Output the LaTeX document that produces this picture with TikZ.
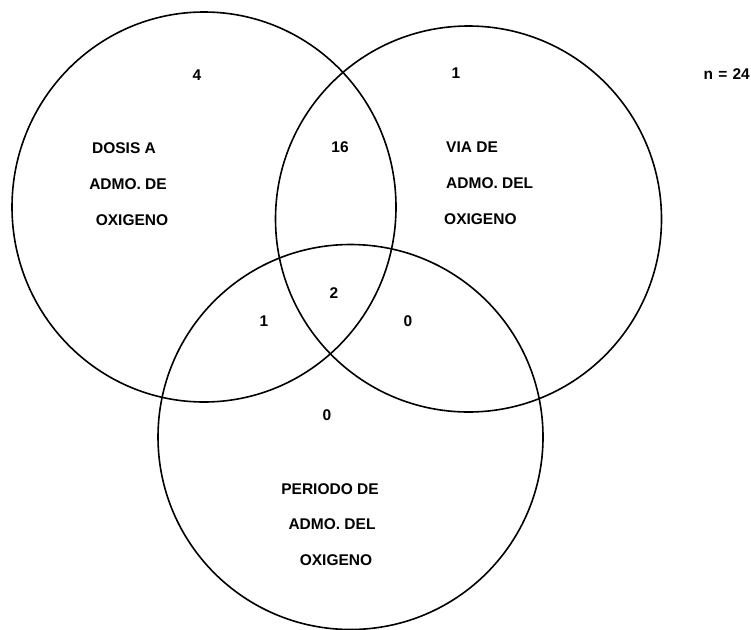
\documentclass[tikz,border=0pt]{standalone}
\usepackage{fontspec}
\setmainfont{Liberation Sans}
\begin{document}
\begin{tikzpicture}[x=1pt,y=-1pt,
  ring/.style={line width=1.6pt},
  lbl/.style={inner sep=0pt,font=\fontsize{15.5}{19}\selectfont\bfseries}]
\useasboundingbox (0,0) rectangle (751,629);
% circles
\draw[ring] (204,207) ellipse [x radius=192, y radius=195];
\draw[ring] (468.5,219) circle [radius=193];
\draw[ring] (350.5,437) circle [radius=192.5];
% counts
\node[lbl] (n4) at (197,75) {4};
\node[lbl] (n1a) at (456,73) {1};
\node[lbl,anchor=east] (ntot) at (750,74) {n\,\,=\,\,24};
\node[lbl] (n16) at (340,147) {16};
\node[lbl] (n2) at (334,293) {2};
\node[lbl] (n1b) at (264,321) {1};
\node[lbl] (n0a) at (408,321) {0};
\node[lbl] (n0b) at (327,415) {0};
% left set label
\node[lbl] (l1) at (124,148) {DOSIS A};
\node[lbl] (l2) at (128,184) {ADMO. DE};
\node[lbl] (l3) at (132,220) {OXIGENO};
% right set label
\node[lbl,anchor=west] (r1) at (446,147) {VIA DE};
\node[lbl,anchor=west] (r2) at (446,183) {ADMO. DEL};
\node[lbl,anchor=west] (r3) at (444,219) {OXIGENO};
% bottom set label
\node[lbl] (b1) at (330,489) {PERIODO DE};
\node[lbl] (b2) at (332,524) {ADMO. DEL};
\node[lbl] (b3) at (336,560) {OXIGENO};
\end{tikzpicture}
\end{document}
